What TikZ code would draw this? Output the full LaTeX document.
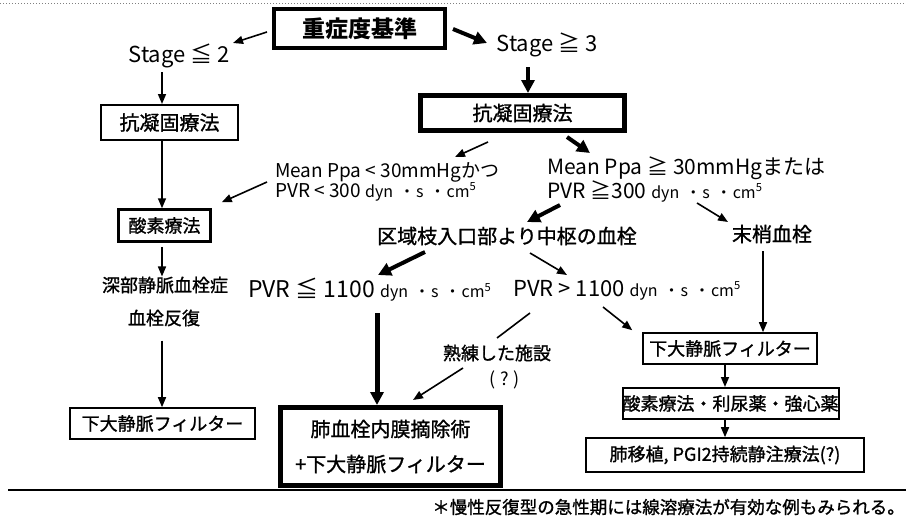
\documentclass[tikz,border=0pt]{standalone}
\usepackage{fontspec}
\setmainfont{Noto Sans CJK JP}
\newfontfamily\jpb[FakeBold=1.2]{Noto Sans CJK JP}
\usetikzlibrary{arrows.meta,calc}
\newcommand\setfs[2]{\fontsize{#1}{#2}\selectfont}
\newcommand\dynunit{{\setfs{16}{16}dyn\hspace{6pt}・\hspace{1pt}s\hspace{6pt}・\hspace{1pt}cm\textsuperscript{5}}}
\begin{document}
\begin{tikzpicture}[x=1pt,y=-1pt,
  box/.style={draw, line width=1.6pt, inner sep=0pt, align=center, font=\jpb\setfs{18}{18}},
  heavybox/.style={draw, line width=5pt, inner sep=0pt, align=center},
  lbl/.style={inner sep=0pt, align=left},
  arr/.style={line width=1.6pt, -{Triangle[length=10pt,width=8pt]}},
  tarr/.style={line width=4pt, -{Triangle[length=13pt,width=13pt]}},
  plain/.style={line width=1.6pt}]
\useasboundingbox (0,0) rectangle (906,517);
\draw[dotted, line width=1pt, gray] (0,3) -- (906,3);
\draw[line width=2pt] (8,490) -- (906,490);

\coordinate (colL) at (162,0);
\coordinate (colS) at (528,0);
\coordinate (colP) at (377,0);
\coordinate (colV) at (763,0);
\coordinate (colR) at (725,0);

% boxes
\node[heavybox, line width=4pt, minimum width=171pt, minimum height=39pt, font=\setfs{23}{23}\bfseries] (top) at (359.5,28.5) {重症度基準};
\node[box, line width=2pt, minimum width=137pt, minimum height=35pt, font=\jpb\setfs{20}{20}] (lak) at (169.5,122.5) {抗凝固療法};
\node[heavybox, minimum width=204pt, minimum height=35pt, font=\jpb\setfs{20}{20}] (rak) at (522.5,113) {抗凝固療法};
\node[box, line width=2.5pt, minimum width=92pt, minimum height=32pt] (lox) at (164.5,225.5) {酸素療法};
\node[box, minimum width=185pt, minimum height=31pt] (lvf) at (162.5,423.5) {下大静脈フィルター};
\node[heavybox, minimum width=220pt, minimum height=78pt, font=\jpb\setfs{20}{35}] (pea) at (390.5,446.5) {肺血栓内膜摘除術\\+下大静脈フィルター};
\node[box, minimum width=174pt, minimum height=31pt] (rvf) at (730,348.5) {下大静脈フィルター};
\node[box, line width=2pt, minimum width=193pt, minimum height=31pt] (rox) at (730.5,403.5) {酸素療法・利尿薬・強心薬};
\node[box, minimum width=278pt, minimum height=34pt] (ltx) at (725,455) {肺移植, PGI2持続静注療法(?)};

% labels
\node[lbl, font=\setfs{22}{22}] (s2) at (179,56) {Stage ≦ 2};
\node[lbl, font=\setfs{22}{22}] (s3) at (547,45) {Stage ≧ 3};
\node[lbl, anchor=west, font=\setfs{19}{19}] (mlow) at (275,181.5) {Mean Ppa < 30mmHgかつ\\PVR < 300 \dynunit};
\node[lbl, anchor=west, font=\setfs{21}{22}] (mhigh) at (547,179) {Mean Ppa ≧ 30mmHgまたは\\PVR ≧300 \dynunit};
\node[lbl, font=\jpb\setfs{20}{20}] (cen) at (507,236) {区域枝入口部より中枢の血栓};
\node[lbl, font=\jpb\setfs{20}{20}] (per) at (772,234) {末梢血栓};
\node[lbl, font=\jpb\setfs{18}{18}] (dvt) at (165,285) {深部静脈血栓症};
\node[lbl, font=\jpb\setfs{18}{18}] (rec) at (164,318) {血栓反復};
\node[lbl, anchor=west, font=\setfs{23}{23}] (ple) at (248,290) {PVR ≦ 1100 \dynunit};
\node[lbl, anchor=west, font=\setfs{22}{22}] (pgt) at (513,290) {PVR > 1100 \dynunit};
\node[lbl, font=\jpb\setfs{18}{18}] (exp) at (497,353) {熟練した施設};
\node[lbl, font=\setfs{18}{18}] (qq) at (505,380) {( ? )};
\node[lbl, anchor=east, font=\jpb\setfs{17.5}{17.5}] (foot) at (905,507) {＊慢性反復型の急性期には線溶療法が有効な例もみられる。};

% connectors
\draw[arr] ($(top)+(-92.5,3.5)$) -- ($(s2)+(54,-13)$);
\draw[tarr] ($(top)+(93.5,0.5)$) -- ($(s3)+(-60,-2)$);
\draw[arr, shorten <=4pt] (s2.south -| colL) -- (lak.north -| colL);
\draw[arr] (lak.south -| colL) -- (lox.north -| colL);
\draw[arr] ($(mlow.west)+(-8,0.5)$) -- ($(lox.north east)+(10,-6)$);
\draw[arr, shorten <=4pt] (lox.south -| colL) -- (dvt.north -| colL);
\draw[arr, shorten <=14pt] (rec.south -| colL) -- (lvf.north -| colL);
\draw[arr] ($(rak)+(-34.5,29)$) -- ($(mlow.west)+(180,-24.5)$);
\draw[tarr] ($(rak)+(44.5,24)$) -- ($(mhigh.west)+(43,-26)$);
\draw[tarr, line width=3.5pt, shorten <=10pt] (s3.south -| colS) -- (rak.north -| colS);
\draw[tarr] ($(mhigh.west)+(13,26)$) -- ($(cen)+(20,-14)$);
\draw[arr] ($(mhigh.west)+(150,24)$) -- ($(per)+(-44,-12)$);
\draw[tarr] ($(cen)+(-82,16)$) -- ($(ple.west)+(130,-15)$);
\draw[arr] ($(cen)+(23,17)$) -- ($(pgt.west)+(54,-15)$);
\draw[tarr, line width=5pt] ($(ple.west)+(129,23)$) -- (pea.north -| colP);
\draw[plain] ($(pgt.west)+(17,23)$) -- ($(exp)+(0,-15)$);
\draw[arr] ($(exp)+(-34,15)$) -- ($(pea)+(22.5,-46.5)$);
\draw[arr] ($(pgt.west)+(90,17)$) -- ($(rvf.north west)+(-10,-2)$);
\draw[arr, shorten <=8pt] (per.south -| colV) -- (rvf.north -| colV);
\draw[arr] (rvf.south -| colR) -- (rox.north -| colR);
\draw[arr] (rox.south -| colR) -- (ltx.north -| colR);
\end{tikzpicture}
\end{document}
